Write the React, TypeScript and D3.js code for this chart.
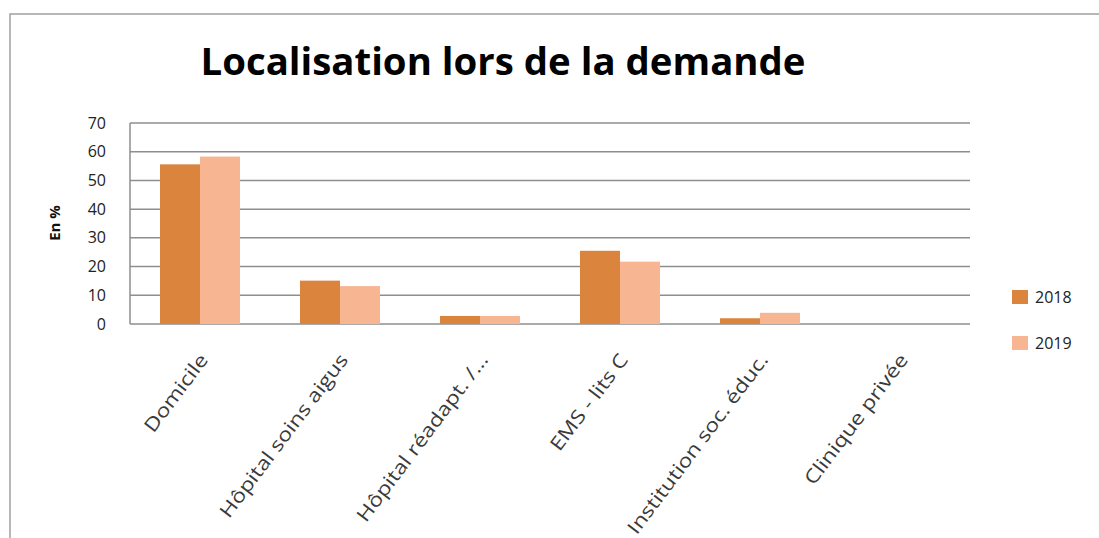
import * as d3 from "d3";
import React, { useEffect, useRef } from "react";

const categories = [
  "Domicile",
  "Hôpital soins aigus",
  "Hôpital réadapt. /...",
  "EMS - lits C",
  "Institution soc. éduc.",
  "Clinique privée",
];
const values2018 = [55.6, 15.1, 2.8, 25.5, 2.0, 0];
const values2019 = [58.3, 13.2, 2.8, 21.7, 3.9, 0];
const seriesNames = ["2018", "2019"];
const yTicks = [0, 10, 20, 30, 40, 50, 60, 70];

const colors = ["#db843d", "#f7b592"];
const gridColor = "#8e8e8e";

export default function App() {
  const svgRef = useRef<SVGSVGElement | null>(null);

  useEffect(() => {
    if (!svgRef.current) return;
    const svg = d3.select(svgRef.current);
    svg.selectAll("*").remove();

    const width = 1099;
    const height = 538;
    const margin = { top: 123, right: 129, bottom: 214, left: 130 };
    const font = "'Open Sans', 'Liberation Sans', sans-serif";

    // chart frame (cut by the picture edges)
    svg
      .append("rect")
      .attr("x", 10)
      .attr("y", 14)
      .attr("width", width + 20)
      .attr("height", height + 20)
      .attr("fill", "white")
      .attr("stroke", "#a0a0a0")
      .attr("stroke-width", 1.5);

    const x = d3
      .scaleBand<string>()
      .domain(categories)
      .range([margin.left, width - margin.right]);

    const x1 = d3
      .scaleBand<string>()
      .domain(seriesNames)
      .range([0, x.bandwidth()])
      .paddingInner(0)
      .paddingOuter(0.75);

    const y = d3
      .scaleLinear()
      .domain([0, 70])
      .range([height - margin.bottom, margin.top]);

    // gridlines
    svg
      .append("g")
      .selectAll("line")
      .data(yTicks)
      .enter()
      .append("line")
      .attr("x1", margin.left)
      .attr("x2", width - margin.right)
      .attr("y1", (d) => y(d))
      .attr("y2", (d) => y(d))
      .attr("stroke", gridColor)
      .attr("stroke-width", 1.5);

    // y axis line
    svg
      .append("line")
      .attr("x1", margin.left)
      .attr("x2", margin.left)
      .attr("y1", y(0))
      .attr("y2", y(70))
      .attr("stroke", gridColor)
      .attr("stroke-width", 1.5);

    // y tick labels
    svg
      .append("g")
      .selectAll("text")
      .data(yTicks)
      .enter()
      .append("text")
      .attr("x", margin.left - 24)
      .attr("y", (d) => y(d))
      .attr("dy", "0.35em")
      .attr("text-anchor", "end")
      .attr("font-family", font)
      .attr("font-size", 16)
      .attr("fill", "#222")
      .text((d) => d);

    // bars
    const series = [values2018, values2019];
    series.forEach((vals, si) => {
      svg
        .append("g")
        .selectAll("rect")
        .data(categories)
        .enter()
        .append("rect")
        .attr("x", (c) => x(c)! + x1(seriesNames[si])!)
        .attr("width", x1.bandwidth())
        .attr("y", (c, i) => y(vals[i]))
        .attr("height", (c, i) => y(0) - y(vals[i]))
        .attr("fill", colors[si]);
    });

    // x labels
    svg
      .append("g")
      .selectAll("text")
      .data(categories)
      .enter()
      .append("text")
      .attr(
        "transform",
        (c) =>
          `translate(${x(c)! + x.bandwidth() / 2 + 9},${y(0) + 36}) rotate(-53) scale(1.2,1)`
      )
      .attr("text-anchor", "end")
      .attr("font-family", font)
      .attr("font-size", 19)
      .attr("fill", "#3a3a3a")
      .text((c) => c);

    // y axis title
    svg
      .append("text")
      .attr("transform", `translate(60,223) rotate(-90)`)
      .attr("text-anchor", "middle")
      .attr("font-family", font)
      .attr("font-size", 15)
      .attr("font-weight", "bold")
      .attr("fill", "#111")
      .text("En %");

    // title
    svg
      .append("text")
      .attr("x", 503)
      .attr("y", 75)
      .attr("text-anchor", "middle")
      .attr("font-family", font)
      .attr("font-size", 38)
      .attr("font-weight", "bold")
      .attr("fill", "#000")
      .attr("textLength", 605)
      .attr("lengthAdjust", "spacingAndGlyphs")
      .text("Localisation lors de la demande");

    // legend
    const legend = svg
      .append("g")
      .selectAll("g")
      .data(seriesNames)
      .enter()
      .append("g")
      .attr("transform", (d, i) => `translate(1012,${290 + i * 46})`);
    legend
      .append("rect")
      .attr("width", 16)
      .attr("height", 14)
      .attr("fill", (d, i) => colors[i]);
    legend
      .append("text")
      .attr("x", 23)
      .attr("y", 7)
      .attr("dy", "0.35em")
      .attr("font-family", font)
      .attr("font-size", 16)
      .attr("fill", "#222")
      .text((d) => d);
  }, []);

  return (
    <svg
      ref={svgRef}
      width={1099}
      height={538}
      style={{ position: "absolute", left: 0, top: 0, background: "white" }}
    ></svg>
  );
}
